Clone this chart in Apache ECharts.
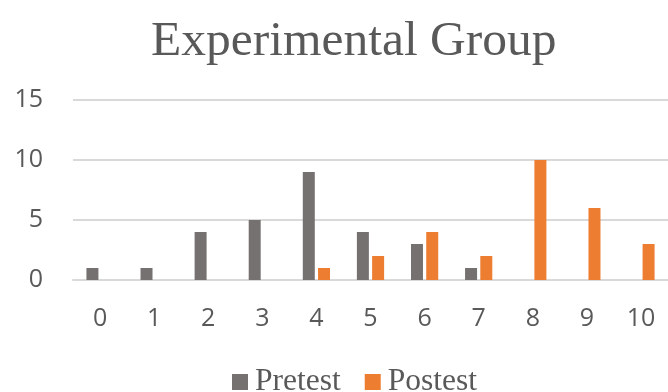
<!DOCTYPE html>
<html>
<head>
<meta charset="utf-8">
<script src="https://cdn.jsdelivr.net/npm/echarts@6/dist/echarts.min.js"></script>
<style>
  html, body { margin: 0; padding: 0; background: #ffffff; }
  #chart { width: 668px; height: 392px; }
</style>
</head>
<body>
<div id="chart"></div>
<script>
// Score categories and the number of students at each score
const categories = ['0', '1', '2', '3', '4', '5', '6', '7', '8', '9', '10'];
const pretest = [1, 1, 4, 5, 9, 4, 3, 1, 0, 0, 0];
const postest = [0, 0, 0, 0, 1, 2, 4, 2, 10, 6, 3];
const seriesNames = ['Pretest', 'Postest'];

const chart = echarts.init(document.getElementById('chart'), null, { renderer: 'canvas' });

const axisFont = { fontFamily: 'Open Sans, Liberation Sans, sans-serif', fontSize: 25, color: '#595959' };
const serifFont = 'Liberation Serif, DejaVu Serif, serif';

chart.setOption({
  animation: false,
  backgroundColor: '#ffffff',
  title: {
    text: 'Experimental Group',
    left: 146,
    top: 12,
    textStyle: { fontFamily: serifFont, fontSize: 49.5, fontWeight: 'normal', color: '#595959' }
  },
  legend: {
    data: seriesNames,
    bottom: -11,
    left: 227,
    icon: 'rect',
    itemWidth: 16,
    itemHeight: 16,
    itemGap: 24,
    textStyle: { fontFamily: serifFont, fontSize: 31.5, color: '#595959', padding: [0, 0, 0, 2] }
  },
  grid: { left: 73, right: -9, top: 100, bottom: 112, containLabel: false },
  xAxis: {
    type: 'category',
    data: categories,
    axisLine: { show: true, lineStyle: { color: '#d9d9d9', width: 2 } },
    axisTick: { show: false },
    axisLabel: Object.assign({ margin: 26 }, axisFont)
  },
  yAxis: {
    type: 'value',
    min: 0,
    max: 15,
    interval: 5,
    axisLine: { show: false },
    axisTick: { show: false },
    splitLine: { show: true, lineStyle: { color: '#d9d9d9', width: 2 } },
    axisLabel: Object.assign({ margin: 30 }, axisFont)
  },
  series: [
    {
      name: seriesNames[0],
      type: 'bar',
      data: pretest,
      barWidth: 12,
      barGap: '27%',
      itemStyle: { color: '#767171' }
    },
    {
      name: seriesNames[1],
      type: 'bar',
      data: postest,
      barWidth: 12,
      barGap: '27%',
      itemStyle: { color: '#ED7D31' }
    }
  ]
});
</script>
</body>
</html>
